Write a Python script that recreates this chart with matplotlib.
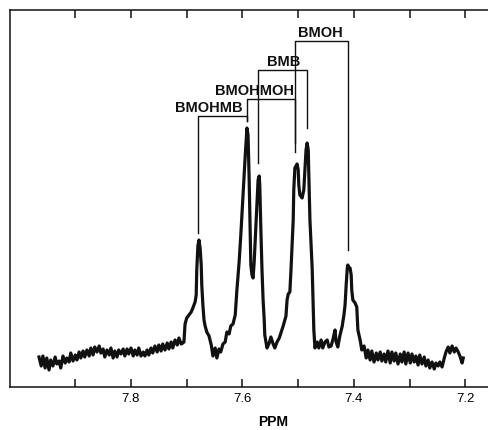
import matplotlib
matplotlib.use('Agg')
import matplotlib.pyplot as plt
from matplotlib.ticker import FixedLocator, NullFormatter

plt.rcParams['font.family'] = ['Liberation Sans', 'DejaVu Sans']

# chemical shift (ppm) and intensity (arb. units)
ppm_left = [7.965, 7.961, 7.958, 7.954, 7.951, 7.947, 7.944, 7.940, 7.936, 7.933,
            7.929, 7.926, 7.922, 7.918, 7.915, 7.911, 7.908, 7.904, 7.900, 7.897,
            7.893, 7.890, 7.886, 7.883, 7.879, 7.875, 7.872, 7.868, 7.865, 7.861,
            7.857, 7.854, 7.850, 7.847, 7.843, 7.839, 7.836, 7.832, 7.829, 7.825,
            7.822, 7.818, 7.814, 7.811, 7.807, 7.804, 7.800, 7.796, 7.793, 7.789,
            7.786, 7.782, 7.778, 7.775, 7.771, 7.768, 7.764, 7.761, 7.757, 7.753,
            7.750, 7.746, 7.743, 7.739, 7.735, 7.732, 7.728, 7.725, 7.721, 7.717,
            7.714, 7.710, 7.707]
int_left = [30, 21, 31, 19, 29, 17, 27, 21, 30, 23,
            26, 19, 31, 24, 29, 25, 34, 26, 32, 27,
            35, 29, 36, 30, 37, 31, 39, 32, 40, 35,
            41, 34, 38, 30, 37, 32, 39, 29, 36, 30,
            37, 33, 38, 31, 38, 33, 39, 31, 37, 32,
            39, 31, 35, 31, 37, 32, 39, 34, 41, 35,
            42, 36, 43, 37, 44, 38, 45, 39, 47, 42,
            49, 43, 44]

ppm_peaks = [7.705, 7.703, 7.700, 7.696, 7.692, 7.689, 7.685, 7.683, 7.682, 7.680,
             7.678, 7.676, 7.674, 7.673, 7.671, 7.669, 7.667, 7.664, 7.660, 7.656,
             7.653, 7.649, 7.646, 7.642, 7.639, 7.635, 7.631, 7.628, 7.624, 7.621,
             7.617, 7.613, 7.610, 7.606, 7.603, 7.599, 7.595, 7.592, 7.590, 7.588,
             7.586, 7.585, 7.583, 7.581, 7.579, 7.578, 7.576, 7.574, 7.572, 7.570,
             7.569, 7.567, 7.565, 7.563, 7.561, 7.560, 7.556, 7.552, 7.549, 7.545,
             7.542, 7.538, 7.534, 7.531, 7.527, 7.524, 7.522, 7.520, 7.518, 7.515,
             7.513, 7.511, 7.509, 7.508, 7.506, 7.502, 7.500, 7.499, 7.497, 7.493,
             7.490, 7.488, 7.486, 7.484, 7.482, 7.481, 7.479, 7.477, 7.475, 7.473,
             7.472, 7.470, 7.466, 7.463, 7.459, 7.456, 7.452, 7.448, 7.445, 7.441,
             7.438, 7.434, 7.432, 7.429, 7.425, 7.421, 7.420, 7.418, 7.416, 7.414,
             7.412, 7.411, 7.409, 7.407, 7.405, 7.404, 7.402, 7.398, 7.395, 7.393,
             7.389, 7.386]
int_peaks = [45, 63, 69, 72, 75, 79, 85, 92, 117, 141,
             147, 139, 122, 102, 82, 67, 61, 55, 51, 42,
             31, 39, 29, 38, 35, 43, 45, 55, 53, 61,
             63, 72, 97, 125, 152, 192, 232, 259, 252, 207,
             147, 122, 112, 109, 125, 137, 162, 187, 207, 211,
             202, 157, 117, 87, 67, 52, 39, 44, 50, 43,
             39, 45, 49, 54, 61, 67, 71, 87, 93, 95,
             117, 142, 167, 197, 219, 223, 217, 202, 192, 189,
             197, 217, 237, 244, 237, 212, 167, 142, 119, 77,
             57, 39, 45, 39, 47, 39, 45, 47, 40, 41,
             47, 57, 45, 40, 52, 61, 65, 72, 82, 102,
             119, 122, 119, 119, 112, 97, 87, 84, 80, 57,
             47, 37]

ppm_right = [7.382, 7.378, 7.375, 7.371, 7.368, 7.364, 7.360, 7.357, 7.353, 7.350,
             7.346, 7.343, 7.339, 7.335, 7.332, 7.328, 7.325, 7.321, 7.317, 7.314,
             7.310, 7.307, 7.303, 7.299, 7.296, 7.292, 7.289, 7.285, 7.282, 7.278,
             7.274, 7.271, 7.267, 7.264, 7.260, 7.256, 7.253, 7.249, 7.246, 7.242,
             7.238, 7.235, 7.231, 7.228, 7.224, 7.220, 7.217, 7.213, 7.210, 7.206,
             7.204]
int_right = [41, 29, 37, 27, 36, 25, 34, 27, 35, 26,
             33, 25, 36, 24, 35, 26, 34, 23, 33, 25,
             35, 23, 34, 24, 33, 25, 31, 22, 32, 23,
             30, 21, 27, 19, 25, 18, 24, 21, 25, 20,
             29, 35, 40, 34, 41, 35, 39, 35, 31, 24,
             29]

# peak assignments: bracket joins two peaks
labels = ['BMOHMB', 'BMOHMOH', 'BMB', 'BMOH']
left_ppm = [7.680, 7.592, 7.572, 7.506]
right_ppm = [7.592, 7.506, 7.484, 7.411]
bar_level = [271, 288, 317, 346]
left_end = [154, 266, 224, 244]
right_end = [266, 235, 259, 137]
label_ppm = [7.660, 7.579, 7.527, 7.461]

major_ticks = [7.8, 7.6, 7.4, 7.2]
minor_ticks = [7.9, 7.7, 7.5, 7.3]

shift = ppm_left + ppm_peaks + ppm_right
intensity = int_left + int_peaks + int_right

fig = plt.figure(figsize=(4.88, 4.30), dpi=100)
# axes runs past the right edge of the figure, like the cropped scan
ax = fig.add_axes([10 / 488, 43 / 430, 526 / 488, 377 / 430])

ax.plot(shift, intensity, color='#111111', lw=2.3, solid_joinstyle='round')

for i in range(len(labels)):
    ax.plot([left_ppm[i], left_ppm[i], right_ppm[i], right_ppm[i]],
            [left_end[i], bar_level[i], bar_level[i], right_end[i]],
            color='#111111', lw=1.0)
    ax.text(label_ppm[i], bar_level[i] + 4, labels[i], ha='center', va='baseline',
            fontsize=10.5, fontweight='bold', color='#111111')

ax.set_xlim(8.017, 7.0735)
ax.set_ylim(0, 377)

ax.xaxis.set_major_locator(FixedLocator(major_ticks))
ax.xaxis.set_minor_locator(FixedLocator(minor_ticks))
ax.xaxis.set_minor_formatter(NullFormatter())
ax.set_xticklabels(['7.8', '7.6', '7.4', '7.2'])
ax.tick_params(axis='x', which='both', direction='in', top=True, bottom=True,
               length=5.5, width=1.1, pad=4.5, labelsize=9.5, color='#111111')
ax.set_yticks([])

for s in ax.spines.values():
    s.set_linewidth(1.1)
    s.set_color('#111111')
ax.spines['right'].set_visible(False)

ax.set_xlabel('PPM', fontsize=10, fontweight='bold')
ax.xaxis.set_label_coords(0.5, -28 / 377)

fig.savefig('out.png', dpi=100)
